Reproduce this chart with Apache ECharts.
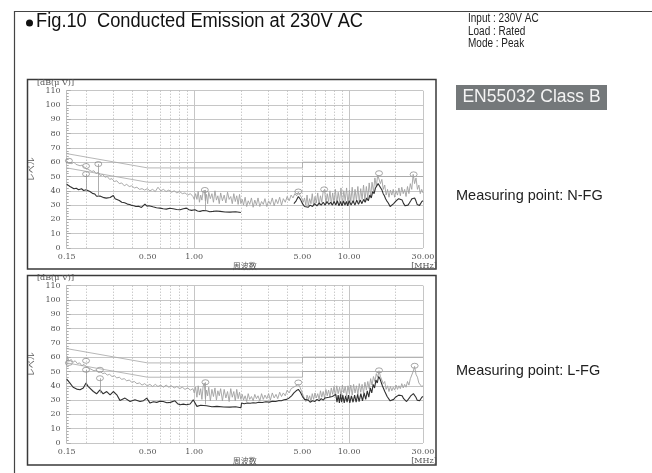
<!DOCTYPE html>
<html>
<head>
<meta charset="utf-8">
<script src="https://cdn.jsdelivr.net/npm/echarts@6/dist/echarts.min.js"></script>
<style>
html, body { margin: 0; padding: 0; background: #fff; }
#main { width: 652px; height: 473px; }
</style>
</head>
<body>
<div id="main"></div>
<script>
// limit lines EN55032 class B (QP / AV)
const limitFreq = [0.15, 0.5, 5, 5, 30];
const qpLimit = [66, 56, 56, 60, 60];
const avLimit = [56, 46, 46, 50, 50];

// tick labels / grid positions (MHz)
const freqLabels = [0.15, 0.5, 1, 5, 10, 30];
const solidGrid = [0.15, 1, 10, 30];
const dottedGrid = [0.2, 0.3, 0.4, 0.5, 0.6, 0.7, 0.8, 0.9, 2, 3, 4, 5, 6, 7, 8, 9, 20];

// N-FG peak trace (grey)
const nfgPeak = [
  [0.150,61],[0.154,59.5],[0.158,60.5],[0.162,59],[0.167,60],[0.172,58.5],[0.177,59],[0.183,57.5],[0.189,58],[0.195,56.5],
  [0.200,57],[0.206,55],[0.212,55.5],[0.218,53.5],[0.225,54],[0.232,52],[0.240,53],[0.248,50.5],[0.256,51.5],[0.265,49.5],
  [0.274,50],[0.284,48],[0.294,48.5],[0.305,46.5],[0.316,47],[0.328,45],[0.340,45.5],[0.353,43.5],[0.366,44.5],[0.380,43],
  [0.395,43.5],[0.410,42],[0.426,42.5],[0.443,41],[0.460,41.5],[0.478,40.5],[0.497,41.5],[0.517,40],[0.538,41],[0.560,39.5],
  [0.583,42.5],[0.607,40],[0.632,41],[0.658,39.5],[0.685,40.5],[0.713,39],[0.742,40],[0.772,38.5],[0.804,39.5],[0.837,38],
  [0.871,38.5],[0.907,37],[0.944,38],[0.980,36],[1.00,34],
  [1.02,38],[1.04,34],[1.06,39.5],[1.08,32],[1.10,37],[1.12,33.5],[1.14,39],[1.16,40.5],[1.18,33],[1.20,37.5],[1.22,31],
  [1.24,39],[1.27,34.5],[1.30,38],[1.33,32],[1.36,40],[1.39,33.5],[1.42,36.5],[1.45,31],[1.48,38.5],[1.52,33],[1.56,37],
  [1.60,31.5],[1.64,39],[1.68,34],[1.72,36],[1.76,31],[1.80,38],[1.84,32.5],[1.88,36.5],[1.92,30.5],[1.96,37.5],[2.00,31],
  [2.04,34],[2.08,30],[2.13,35.5],[2.18,29],[2.23,33],[2.28,30.5],[2.34,35],[2.40,28.5],[2.46,33.5],[2.52,30],[2.58,35],
  [2.65,29],[2.72,32.5],[2.79,30.5],[2.86,34.5],[2.94,29],[3.02,33],[3.10,30.5],[3.19,35],[3.28,29.5],[3.37,34],[3.46,31],
  [3.56,35.5],[3.66,30],[3.76,34.5],[3.87,32],[3.98,36],[4.10,33],[4.22,37],[4.34,35],[4.46,38],[4.58,36.5],[4.70,39],
  [4.82,37],[4.94,35],[5.06,32],
  [5.15,35],[5.25,30],[5.35,37],[5.45,29.5],[5.56,34.5],[5.67,31],[5.78,38],[5.90,29.5],[6.02,36],[6.14,31.5],[6.27,38.5],
  [6.40,30],[6.53,36.5],[6.66,32],[6.80,39.5],[6.94,41],[7.08,31],[7.22,38],[7.37,32.5],[7.52,40],[7.67,30.5],[7.83,38.5],[7.99,31.5],
  [8.15,41],[8.32,31],[8.50,39],[8.68,32.5],[8.86,42],[9.05,30.5],[9.24,40],[9.43,33],[9.63,42],[9.83,31],[10.04,40.5],
  [10.25,32.5],[10.47,42.5],[10.69,31.5],[10.92,41],[11.15,33],[11.39,43],[11.63,32],[11.88,41.5],[12.13,34],[12.39,44],
  [12.65,33],[12.92,43],[13.20,35],[13.48,45.5],[13.77,36],[14.06,46],[14.36,39.5],[14.67,49],[14.98,43],[15.30,51],
  [15.60,52.3],[15.93,45],[16.27,48],[16.62,41],[16.98,44],[17.34,37],[17.71,41],
  [18.09,35.5],[18.48,40.5],[18.87,37],[19.27,41],[19.68,35.5],[20.10,40],[20.53,37],[20.97,42],[21.42,36.5],[21.88,42.5],
  [22.35,38],[22.83,41],[23.32,36],[23.82,43],[24.33,38],[24.85,45],[25.38,41],[25.92,51.5],[26.47,45],[27.04,49],
  [27.62,41],[28.21,44],[28.81,38],[29.42,41],[30.00,38.5]
];

// N-FG average trace (dark)
const nfgAvg = [
  [0.150,44.7],[0.154,43.6],[0.1575,43],[0.162,42.3],[0.167,41.4],[0.173,41.8],[0.179,40.7],[0.187,41.4],[0.193,40.2],[0.200,40.7],
  [0.206,39.8],[0.212,39.5],[0.220,38.2],[0.228,37.7],[0.234,36.2],[0.240,35.3],[0.246,36.4],[0.252,36],[0.261,35.2],[0.270,34.9],
  [0.278,35.6],[0.286,35.3],[0.293,34.6],[0.300,36.7],[0.308,34.5],[0.316,33.7],[0.328,33.2],[0.340,32],[0.355,31.6],[0.370,30.7],
  [0.383,30.4],[0.395,29.8],[0.407,29.6],[0.420,29],[0.437,29.2],[0.456,28.4],[0.468,29],[0.480,30.7],[0.495,29.3],[0.510,29.5],
  [0.525,28.6],[0.540,28.8],[0.570,28.2],[0.600,27.9],[0.630,27.4],[0.660,27.2],[0.695,27.8],[0.730,27.4],[0.770,26.9],[0.810,26.7],
  [0.850,27.4],[0.890,27.9],[0.925,26.8],[0.960,26.3],[0.985,26.9],[1.01,26.7],[1.05,25.9],[1.09,25.6],[1.14,26.2],[1.20,26],
  [1.26,25.4],[1.32,25.6],[1.39,25.9],[1.47,25.6],[1.58,25.2],[1.70,25.1],[1.85,25.4],[2.00,24.8],
  [3.00,'-'],
  [4.40,31],[4.55,33],[4.70,36],[4.85,34],[5.00,31],[5.15,29],[5.30,30],[5.45,28.5],[5.60,30],[5.80,29],[6.00,31],[6.20,29.5],
  [6.40,31.5],[6.60,30],[6.80,32],[7.00,30],[7.20,32.5],[7.40,30.5],[7.60,32],[7.80,30],[8.00,32.5],
  [8.20,30],[8.40,33],[8.60,29.5],[8.80,32.5],[9.00,29.5],[9.20,33],[9.40,30],[9.60,32.5],[9.80,29.5],[10.0,33],[10.3,30],
  [10.6,33],[10.9,30],[11.2,33.5],[11.5,30.5],[11.8,33.5],[12.1,31],[12.4,34],[12.7,32],[13.0,35],[13.3,33],[13.6,37],
  [13.9,35],[14.2,39.5],[14.5,38],[14.8,42],[15.1,41],[15.4,45],[15.7,45.5],[16.0,42],[16.3,40.5],[16.6,38],[16.9,36.5],
  [17.2,34.5],[17.5,33],[17.9,31.5],[18.4,29],[18.9,30],[19.4,31],[19.9,32.5],[20.4,33.5],[20.9,34.5],[21.5,35],[22.0,33.5],
  [22.5,31],[23.0,29.5],[23.5,29],[24.0,30],[24.5,31.5],[25.0,33],[25.5,34.5],[26.0,35.5],[26.5,35],[27.0,33],[27.5,30.5],
  [28.0,29.5],[28.5,29.8],[29.0,31],[29.5,32.5],[30.0,33]
];

// L-FG peak trace (grey)
const lfgPeak = [
  [0.150,56],[0.152,60.5],[0.155,57],[0.160,58.5],[0.165,56.5],[0.170,57.5],[0.176,55.5],[0.182,56],[0.188,54],[0.194,55],
  [0.200,53.5],[0.206,54],[0.212,52],[0.218,52.5],[0.225,50.5],[0.232,51],[0.240,49.5],[0.248,50],[0.256,48.5],[0.265,49],
  [0.274,47.5],[0.284,48],[0.294,46.5],[0.305,47],[0.316,45.5],[0.328,46],[0.340,44.5],[0.353,45],[0.366,43.5],[0.380,44],
  [0.395,42.5],[0.410,43],[0.426,41.5],[0.443,42],[0.460,40.5],[0.478,41.5],[0.497,40],[0.517,41],[0.538,39.5],[0.560,41],
  [0.583,39.5],[0.607,40.5],[0.632,39],[0.658,40.5],[0.685,39],[0.713,40],[0.742,38.5],[0.772,39.5],[0.804,38],[0.837,39],
  [0.871,37.5],[0.907,38.5],[0.944,37],[0.980,38],[1.00,35],
  [1.02,39],[1.04,32],[1.06,40],[1.08,33.5],[1.10,38],[1.12,30.5],[1.14,39.5],[1.16,42],[1.18,31],[1.20,37],[1.22,33],
  [1.24,39],[1.27,29.5],[1.30,37.5],[1.33,32.5],[1.36,38.5],[1.39,30],[1.42,36.5],[1.45,33],[1.48,38],[1.52,29.5],[1.56,37.5],
  [1.60,31.5],[1.64,36],[1.68,29],[1.72,38],[1.76,32],[1.80,36],[1.84,29.5],[1.88,37.5],[1.92,31],[1.96,35.5],[2.00,30.5],
  [2.04,34],[2.08,30],[2.13,33],[2.18,29],[2.23,34.5],[2.28,30.5],[2.34,32.5],[2.40,29.5],[2.46,34],[2.52,31],[2.58,33],
  [2.65,29.5],[2.72,34.5],[2.79,30.5],[2.86,33.5],[2.94,31],[3.02,34.5],[3.10,30],[3.19,35],[3.28,31.5],[3.37,34],[3.46,31],
  [3.56,35.5],[3.66,32.5],[3.76,35],[3.87,33],[3.98,37],[4.10,35],[4.22,38],[4.34,37],[4.46,39.5],[4.58,39],[4.70,41],
  [4.82,39],[4.94,36],[5.06,33],
  [5.15,32.5],[5.25,29],[5.35,33.5],[5.45,30.5],[5.56,33],[5.67,29],[5.78,34.5],[5.90,30.5],[6.02,35],[6.14,31.5],[6.27,34.5],
  [6.40,30.5],[6.53,36.5],[6.66,32],[6.80,36],[6.94,31.5],[7.08,37.5],[7.22,33],[7.37,37],[7.52,32],[7.67,38.5],[7.83,34],[7.99,39.5],
  [8.15,33],[8.32,40],[8.50,34.5],[8.68,39],[8.86,33],[9.05,40.5],[9.24,35],[9.43,39.5],[9.63,33],[9.83,40],[10.04,34.5],
  [10.25,40.5],[10.47,33.5],[10.69,41],[10.92,35],[11.15,40],[11.39,34],[11.63,41.5],[11.88,35.5],[12.13,41],[12.39,35],
  [12.65,42.5],[12.92,37],[13.20,43],[13.48,38],[13.77,45],[14.06,40.5],[14.36,46.5],[14.67,43],[14.98,48.5],[15.30,46],
  [15.60,50.5],[15.93,46.5],[16.27,47],[16.62,41.5],[16.98,43],[17.34,37.5],[17.71,40],
  [18.09,36],[18.48,39.5],[18.87,36.5],[19.27,39],[19.68,37],[20.10,40.5],[20.53,37.5],[20.97,40],[21.42,38],[21.88,41.5],
  [22.35,38.5],[22.83,41],[23.32,39],[23.82,43],[24.33,40.5],[24.85,45],[25.38,44],[25.92,50],[26.47,53.5],[27.04,48],
  [27.62,46],[28.21,42],[28.81,43],[29.42,39.5],[30.00,40]
];

// L-FG average trace (dark)
const lfgAvg = [
  [0.150,44.7],[0.1575,41.9],[0.165,39],[0.174,37.7],[0.183,37.2],[0.192,38.4],[0.200,41.9],[0.206,39.6],[0.212,38.4],[0.223,36],
  [0.234,34.4],[0.246,37.2],[0.258,34.4],[0.272,36],[0.286,33.7],[0.300,36],[0.316,33.7],[0.331,29.8],[0.357,31.4],[0.385,29],
  [0.414,30.2],[0.446,29],[0.470,29.6],[0.493,31.4],[0.518,27.9],[0.545,28.8],[0.572,28.4],[0.600,29.2],[0.630,29],[0.665,28.1],
  [0.700,28.4],[0.750,29.5],[0.780,27.5],[0.810,26.7],[0.850,27.2],[0.890,26.7],[0.940,27.3],[0.985,30.2],[1.04,25.6],[1.10,26.4],
  [1.20,26],[1.30,25.3],[1.40,25.6],[1.55,25.2],[1.70,25.1],[1.85,25.3],[2.00,24.6],
  [2.02,28],[2.10,27.5],[2.20,28],[2.30,27.8],[2.40,28.2],[2.50,28],[2.60,28.5],[2.75,28.3],[2.90,28.8],[3.05,28.6],[3.20,29.2],
  [3.35,29],[3.50,29.6],[3.65,29.5],[3.80,30.2],[3.95,30.5],[4.10,31.5],[4.25,33],[4.40,35],[4.55,36.5],[4.70,37.5],[4.85,35.5],
  [5.00,32.5],[5.15,30.5],[5.30,29.5],[5.45,30],[5.60,28.5],[5.80,29.5],[6.00,29],[6.20,30.5],[6.40,29.5],[6.60,31],[6.80,30],
  [7.00,31.5],[7.20,30.5],[7.40,32],[7.60,31],[7.80,32.5],[8.00,31.5],
  [8.20,34],[8.35,28.5],[8.50,33.5],[8.65,28],[8.80,34],[8.95,28.5],[9.10,33.5],[9.30,28],[9.50,33],[9.70,28.5],[9.90,33.5],
  [10.1,28],[10.35,33],[10.6,28.5],[10.85,33.5],[11.1,28.5],[11.35,34],[11.6,29],[11.9,34.5],[12.2,29.5],[12.5,35],[12.8,30.5],
  [13.1,36.5],[13.4,32],[13.7,38.5],[14.0,35],[14.3,41],[14.6,38.5],[14.9,44],[15.2,42],[15.5,46.5],[15.8,45],[16.1,44],
  [16.4,40],[16.7,40],[17.0,36],[17.3,36],[17.6,32.5],[18.0,32],[18.4,29.5],[18.9,30.5],[19.4,30.5],[19.9,32],[20.4,33],
  [20.9,33.5],[21.5,34],[22.0,33],[22.5,31],[23.0,30],[23.5,29],[24.0,30],[24.5,31.5],[25.0,33],[25.5,34],[26.0,34.5],
  [26.5,33.5],[27.0,32],[27.5,30],[28.0,29],[28.5,29.5],[29.0,30.5],[29.5,32],[30.0,32.5]
];

// measured points (circles) and their drop lines [freq, top, bottom]
const nfgMarks = [[0.155,61],[0.2,57.3],[0.2,51.7],[0.24,58.7],[1.17,40.6],[4.7,39.5],[6.9,41],[15.6,52.3],[26.1,51.5]];
const nfgSpikes = [[0.2,51.7,39.3],[0.24,58.7,35.8],[1.17,40.6,26.6]];
const lfgMarks = [[0.155,56],[0.2,57.5],[0.2,51.2],[0.246,51.2],[0.246,45.3],[1.18,42.5],[4.7,42.3],[15.6,50.8],[26.5,54]];
const lfgSpikes = [[0.2,51.2,40],[0.246,45.3,34.8],[1.18,42.5,27]];

const serif = 'DejaVu Serif';
const jp = 'Noto Sans CJK JP';

function xAxes(gi) {
  return [
    {
      type: 'log', logBase: 10, gridIndex: gi, min: 0.15, max: 30,
      axisLine: { show: false },
      axisTick: { show: false, customValues: solidGrid },
      axisLabel: {
        customValues: freqLabels,
        formatter: function (v) { return Number(v).toFixed(2); },
        fontFamily: serif, fontSize: 8, color: '#555', margin: 5
      },
      splitLine: { show: true, lineStyle: { color: '#c6c6c6', width: 1 } },
      name: '周波数', nameLocation: 'middle', nameGap: 14,
      nameTextStyle: { fontFamily: jp, fontSize: 8, color: '#555' }
    },
    {
      type: 'log', logBase: 10, gridIndex: gi, min: 0.15, max: 30,
      axisLine: { show: false },
      axisTick: { show: false, customValues: dottedGrid },
      axisLabel: { show: false },
      splitLine: { show: true, lineStyle: { color: '#b4b4b4', width: 1, type: [1, 2] } }
    }
  ];
}

function yAxis(gi) {
  return {
    type: 'value', gridIndex: gi, min: 0, max: 110, interval: 10,
    axisLine: { show: true, lineStyle: { color: '#c0c0c0' } },
    axisTick: { show: true, inside: true, length: 4, lineStyle: { color: '#aaa' } },
    minorTick: { show: true, splitNumber: 5, length: 2, lineStyle: { color: '#aaa' } },
    axisLabel: { fontFamily: serif, fontSize: 8, color: '#555', margin: 6 },
    splitLine: { lineStyle: { color: '#c6c6c6' } },
    name: 'レベル', nameLocation: 'middle', nameGap: 29, nameRotate: 90,
    nameTextStyle: { fontFamily: jp, fontSize: 8, color: '#555' }
  };
}

function panelSeries(gi, peak, avg, marks, spikes) {
  const xi = gi * 2;
  return [
    {
      type: 'line', xAxisIndex: xi, yAxisIndex: gi, showSymbol: false, silent: true,
      data: limitFreq.map(function (f, k) { return [f, qpLimit[k]]; }),
      lineStyle: { color: '#a4a4a4', width: 0.8 }
    },
    {
      type: 'line', xAxisIndex: xi, yAxisIndex: gi, showSymbol: false, silent: true,
      data: limitFreq.map(function (f, k) { return [f, avLimit[k]]; }),
      lineStyle: { color: '#a4a4a4', width: 0.8 }
    },
    {
      type: 'line', xAxisIndex: xi, yAxisIndex: gi, showSymbol: false, silent: true,
      data: peak, lineStyle: { color: '#a0a0a0', width: 0.9 }
    },
    {
      type: 'line', xAxisIndex: xi, yAxisIndex: gi, showSymbol: false, silent: true,
      data: avg, lineStyle: { color: '#303030', width: 1.1 }
    },
    {
      type: 'scatter', xAxisIndex: xi, yAxisIndex: gi, silent: true,
      data: marks, symbol: 'circle', symbolSize: [7, 5],
      itemStyle: { color: 'rgba(255,255,255,0)', borderColor: '#777', borderWidth: 0.8 },
      markLine: {
        silent: true, symbol: 'none', label: { show: false },
        lineStyle: { color: '#9a9a9a', width: 0.8, type: 'solid' },
        data: spikes.map(function (s) { return [{ coord: [s[0], s[1]] }, { coord: [s[0], s[2]] }]; })
      }
    }
  ];
}

const myChart = echarts.init(document.getElementById('main'));

const txt = function (x, y, text, font, fill, extra, sx) {
  return { type: 'text', x: x, y: y, scaleX: sx || 1, style: Object.assign({ text: text, font: font, fill: fill }, extra || {}) };
};

const option = {
  animation: false,
  backgroundColor: '#fff',
  grid: [
    { left: 66.7, right: 229, top: 90.7, height: 157.3, outerBoundsMode: 'none' },
    { left: 66.7, right: 229, top: 285.7, height: 157.3, outerBoundsMode: 'none' }
  ],
  xAxis: xAxes(0).concat(xAxes(1)),
  yAxis: [yAxis(0), yAxis(1)],
  series: panelSeries(0, nfgPeak, nfgAvg, nfgMarks, nfgSpikes)
    .concat(panelSeries(1, lfgPeak, lfgAvg, lfgMarks, lfgSpikes)),
  graphic: [
    { type: 'polyline', shape: { points: [[14.5, 473], [14.5, 11.5], [652, 11.5]] }, style: { stroke: '#444', lineWidth: 1.2, fill: null } },
    { type: 'circle', shape: { cx: 29.5, cy: 23, r: 3.5 }, style: { fill: '#111' } },
    txt(36, 11.5, 'Fig.10  Conducted Emission at 230V AC', '19.5px "Liberation Sans"', '#111', null, 0.937),
    txt(468, 12.5, 'Input : 230V AC\nLoad : Rated\nMode : Peak', '12.5px "Liberation Sans"', '#222', { lineHeight: 12.6 }, 0.8),
    { type: 'rect', shape: { x: 456, y: 85, width: 151, height: 25 }, style: { fill: '#74787a' } },
    txt(531.5, 97.5, 'EN55032 Class B', '17.5px "Liberation Sans"', '#f4f4f4', { align: 'center', verticalAlign: 'middle' }),
    txt(456, 195.5, 'Measuring point: N-FG', '14.5px "Liberation Sans"', '#222', { verticalAlign: 'middle' }),
    txt(456, 370.5, 'Measuring point: L-FG', '14.5px "Liberation Sans"', '#222', { verticalAlign: 'middle' }),
    { type: 'rect', shape: { x: 27.5, y: 79.5, width: 408.5, height: 189.5 }, style: { stroke: '#3a3a3a', lineWidth: 1.5, fill: null } },
    { type: 'rect', shape: { x: 27.5, y: 275.5, width: 408.5, height: 189.5 }, style: { stroke: '#3a3a3a', lineWidth: 1.5, fill: null } },
    txt(37, 82.5, '[dB(μ V)]', '8px "DejaVu Serif"', '#555', { verticalAlign: 'middle' }),
    txt(37, 277.5, '[dB(μ V)]', '8px "DejaVu Serif"', '#555', { verticalAlign: 'middle' }),
    txt(424, 266, '[MHz]', '8px "DejaVu Serif"', '#555', { align: 'center', verticalAlign: 'middle' }),
    txt(424, 461, '[MHz]', '8px "DejaVu Serif"', '#555', { align: 'center', verticalAlign: 'middle' })
  ]
};

myChart.setOption(option);
</script>
</body>
</html>
